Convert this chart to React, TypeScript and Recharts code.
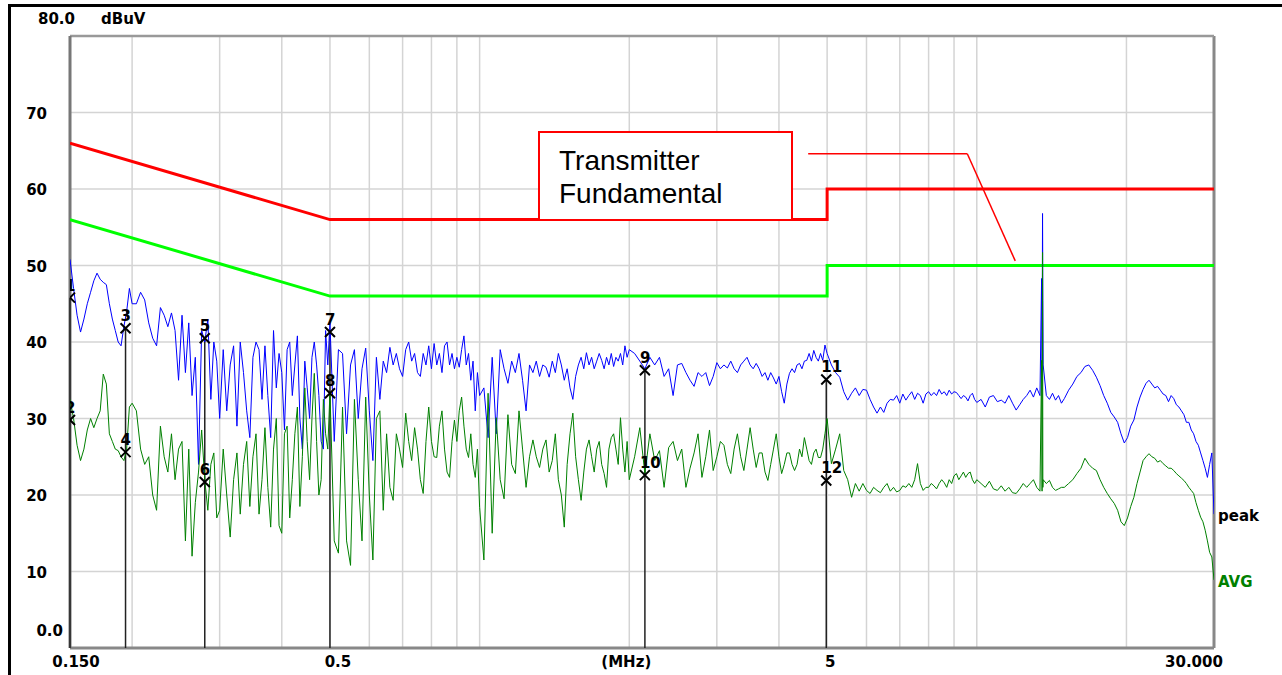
import { ComposedChart, Line, Scatter, XAxis, YAxis, ReferenceLine } from "recharts";

// conducted emission scan, 0.15 - 30 MHz
const freqMHz = [
  0.15, 0.1525, 0.155, 0.1575, 0.16, 0.1625, 0.165, 0.1675, 0.17, 0.1725, 0.175, 0.1775, 0.18, 0.1825, 0.185, 0.1875, 0.19, 0.1925, 0.195, 0.1975, 0.2,
  0.204, 0.208, 0.212, 0.216, 0.22, 0.224, 0.228, 0.232, 0.236, 0.24, 0.244, 0.248, 0.252, 0.256, 0.26, 0.264, 0.268, 0.272, 0.276, 0.28, 0.284, 0.288, 0.292, 0.296, 0.3,
  0.305, 0.31, 0.315, 0.32, 0.325, 0.33, 0.335, 0.34, 0.345, 0.35, 0.355, 0.36, 0.365, 0.37, 0.375, 0.38, 0.385, 0.39, 0.395, 0.4,
  0.405, 0.41, 0.415, 0.42, 0.425, 0.43, 0.435, 0.44, 0.445, 0.45, 0.455, 0.46, 0.465, 0.47, 0.475, 0.48, 0.485, 0.49, 0.495, 0.5,
  0.51, 0.52, 0.53, 0.54, 0.55, 0.56, 0.57, 0.58, 0.59, 0.6, 0.61, 0.62, 0.63, 0.64, 0.65, 0.66, 0.67, 0.68, 0.69, 0.7,
  0.71, 0.72, 0.73, 0.74, 0.75, 0.76, 0.77, 0.78, 0.79, 0.8, 0.81, 0.82, 0.83, 0.84, 0.85, 0.86, 0.87, 0.88, 0.89, 0.9,
  0.91, 0.92, 0.93, 0.94, 0.95, 0.96, 0.97, 0.98, 0.99, 1.0,
  1.02, 1.04, 1.06, 1.08, 1.1, 1.12, 1.14, 1.16, 1.18, 1.2, 1.22, 1.24, 1.26, 1.28, 1.3, 1.32, 1.34, 1.36, 1.38, 1.4,
  1.42, 1.44, 1.46, 1.48, 1.5, 1.52, 1.54, 1.56, 1.58, 1.6, 1.62, 1.64, 1.66, 1.68, 1.7, 1.72, 1.74, 1.76, 1.78, 1.8,
  1.82, 1.84, 1.86, 1.88, 1.9, 1.92, 1.94, 1.96, 1.98, 2.0,
  2.05, 2.1, 2.15, 2.2, 2.25, 2.3, 2.35, 2.4, 2.45, 2.5, 2.55, 2.6, 2.65, 2.7, 2.75, 2.8, 2.85, 2.9, 2.95, 3.0,
  3.05, 3.1, 3.15, 3.2, 3.25, 3.3, 3.35, 3.4, 3.45, 3.5, 3.55, 3.6, 3.65, 3.7, 3.75, 3.8, 3.85, 3.9, 3.95, 4.0,
  4.05, 4.1, 4.15, 4.2, 4.25, 4.3, 4.35, 4.4, 4.45, 4.5, 4.55, 4.6, 4.65, 4.7, 4.75, 4.8, 4.85, 4.9, 4.95, 5.0,
  5.1, 5.2, 5.3, 5.4, 5.5, 5.6, 5.7, 5.8, 5.9, 6.0, 6.1, 6.2, 6.3, 6.4, 6.5, 6.6, 6.7, 6.8, 6.9, 7.0,
  7.1, 7.2, 7.3, 7.4, 7.5, 7.6, 7.7, 7.8, 7.9, 8.0, 8.1, 8.2, 8.3, 8.4, 8.5, 8.6, 8.7, 8.8, 8.9, 9.0,
  9.1, 9.2, 9.3, 9.4, 9.5, 9.6, 9.7, 9.8, 9.9, 10.0,
  10.2, 10.4, 10.6, 10.8, 11.0, 11.2, 11.4, 11.6, 11.8, 12.0, 12.2, 12.4, 12.6, 12.8, 13.0, 13.2, 13.4,
  13.5, 13.53, 13.56, 13.58, 13.6,
  13.8, 14.0, 14.2, 14.4, 14.6, 14.8, 15.0,
  15.3, 15.6, 15.9, 16.2, 16.5, 16.8, 17.1, 17.4, 17.7, 18.0, 18.3, 18.6, 18.9, 19.2, 19.5, 19.8, 20.1, 20.4, 20.7, 21.0,
  21.3, 21.6, 21.9, 22.2, 22.5, 22.8, 23.1, 23.4, 23.7, 24.0, 24.3, 24.6, 24.9, 25.2, 25.5, 25.8, 26.1, 26.4, 26.7, 27.0,
  27.3, 27.6, 27.9, 28.2, 28.5, 28.8, 29.1, 29.4, 29.7, 30.0,
];

const peakDbuv = [
  50.8, 47, 43.5, 41.3, 43, 45, 46.5, 48, 49, 48.2, 47.8, 47.5, 45, 43, 41.5, 40, 39.5, 42, 44, 47, 45,
  45, 46.5, 45.5, 42.5, 40.5, 39.5, 44.5, 43.5, 42, 43.8, 41.5, 35, 43.5, 36, 42.5, 33, 38, 24, 41.5, 40, 43, 32.5, 40, 37.5, 30,
  39, 31, 37, 39.5, 29, 40, 36, 31, 27.5, 38, 40, 39, 32.5, 39.5, 33, 27.5, 41.5, 34, 38.5, 36,
  28.5, 39, 40, 33, 37, 40.8, 30, 26, 37.5, 34, 30, 38, 40, 37, 33, 27, 26, 41.5, 37, 42.5,
  27, 39, 38.5, 28, 37, 39, 30, 36.5, 39.2, 31, 24.5, 38, 32.5, 37.5, 36, 39.3, 37, 38.5, 36.5, 35.5,
  39, 40, 37.5, 38.5, 36, 35.5, 38.5, 37, 39.5, 36.5, 39.8, 37, 38.5, 36, 39.5, 40, 37, 38.5, 36.5, 38,
  36.7, 39, 40.8, 37, 38.5, 35, 37.5, 31, 36, 33,
  34, 27.5, 38, 28, 39, 36.5, 34.6, 37.5, 36, 38.5, 35, 31, 37, 36, 37.5, 35.5, 37, 36.7, 35.4, 37.5,
  36, 38.5, 37, 35, 36.5, 34, 32.5, 35.5, 37, 38, 36.5, 38.6, 37, 38, 36.5, 37.5, 38.5, 37.6, 36.5, 38,
  37, 38.5, 36.8, 38, 37.5, 38.5, 37, 39.5, 38, 39,
  38.5, 37.5, 36.5, 38, 37, 38, 35.5, 36.5, 33, 37, 37.2, 36, 35, 34.2, 36, 35.5, 36, 34.3, 35.5, 37.3,
  36.5, 37, 36.6, 37.5, 36.5, 36, 37, 37.5, 38, 37, 36.5, 37.2, 36.5, 35.5, 36, 35, 36, 35.3, 34.5, 35.5,
  33.5, 32, 34.5, 35.9, 36.5, 36, 37, 37.2, 36.5, 37.5, 37.6, 38.5, 37.5, 38.9, 38, 37.5, 38.5, 37.6, 39.6, 38.5,
  37, 36, 35.4, 33.5, 32.4, 33.3, 34, 33, 33.8, 33.7, 32.5, 31.5, 30.7, 31.5, 30.8, 32, 32.5, 32.4, 33, 32,
  33.2, 32.4, 33, 33.5, 32.5, 33.3, 33, 32, 33.2, 33.5, 33, 33.4, 33, 33.8, 33.2, 33.5, 33, 33.7, 33.2, 33.5,
  33.4, 33, 32.6, 33, 32.8, 32.3, 33, 33.3, 32.5, 32.1,
  32.5, 31.5, 32.8, 33, 32.2, 32.4, 32, 33, 32, 31.1, 31.8, 32.5, 33, 33.7, 32.8, 34, 33,
  48.3, 37.2, 56.8, 45.4, 37,
  33, 32.5, 33.3, 32.4, 33, 32, 32.6,
  33.7, 34.5, 35.5, 36, 36.8, 37, 36.3, 35.4, 34.3, 33, 32, 30.8, 30.2, 29.5, 28, 26.8, 27.5, 29, 29.8, 31.5,
  32.8, 33.8, 34.6, 35, 34.5, 34, 34.2, 33.7, 33.2, 33, 32.2, 33, 32.6, 31.8, 31.5, 31, 30.5, 29.5, 29.5, 28.5,
  28, 27, 26.5, 25.5, 24.5, 23.5, 22.3, 24, 25.5, 17.5,
];

const avgDbuv = [
  32.5, 30, 26.5, 24.5, 26, 28.5, 30, 28.8, 30, 31, 35.8, 34.5, 28, 27, 26, 25.8, 25, 24.5, 26, 31.5, 32,
  31, 26, 24, 25, 20, 18, 29, 25, 23, 28, 22, 26, 27, 14, 26, 12, 19, 23, 28.5, 22, 18, 24, 25.5, 17, 18,
  26, 20, 14.5, 22, 25.5, 17.5, 24, 27, 18.5, 25, 28, 17.5, 22, 28.8, 21, 15.8, 26, 30, 16, 15,
  28, 29, 17, 22, 28, 31.5, 18.5, 25, 34, 27, 22, 30, 35.9, 27, 20, 22, 32.5, 28, 26, 33.5,
  14, 12.4, 31.5, 14, 10.8, 32.5, 22, 14, 32.8, 20, 11.5, 30, 31, 18, 28, 21, 19.3, 28, 26, 23.6,
  30.7, 27, 24.5, 28.8, 26, 22, 20.2, 27, 31.5, 27, 25, 24.9, 29, 31, 26, 23, 22.3, 27, 29.8, 27,
  31, 32.8, 29, 26, 24.9, 28, 24, 22.3, 26, 18.4,
  11.5, 33.3, 15, 30.1, 22, 19.5, 30.5, 24, 22.8, 31, 26, 21, 25, 27.2, 25, 23.6, 26, 27.2, 23, 24.5,
  28, 22, 20, 15.8, 24, 28, 30.7, 25, 22, 19.3, 23, 26, 27.2, 25, 23, 26, 27, 24, 22.8, 21,
  26, 27.5, 28, 26, 24, 30.1, 26, 23, 27, 22,
  25, 28.8, 22.8, 28, 24.5, 25.8, 21, 26.2, 27, 24.5, 26, 21, 23.5, 25.5, 28, 22.3, 25, 28.5, 23.2, 25,
  27, 26.5, 24, 22.8, 26, 28, 25, 23.2, 26, 28.8, 26, 23.6, 25.5, 25.5, 23, 21.9, 24, 26, 28, 25,
  22.8, 24, 25.5, 25.5, 24, 23.2, 24, 26, 25, 27.5, 26, 24.5, 24, 25.5, 26, 24.9, 24.9, 26, 28, 30,
  24.1, 26, 28, 23.2, 22, 19.7, 21.5, 20.5, 21.5, 20.6, 20.2, 21, 20.6, 20.3, 21, 21.5, 20.5, 21, 20.4, 20.6,
  21.2, 21, 21.5, 21, 22, 24.1, 21.5, 20.6, 21, 21, 21.5, 21.2, 20.8, 21.5, 22, 21.6, 21, 22, 21.5, 22.5,
  22.8, 22, 22.5, 23, 22.3, 22.8, 23, 22, 21.5, 22,
  21.5, 21, 21.8, 20.8, 20.6, 21.2, 20.5, 21, 20.3, 20.2, 20.8, 21.5, 21, 21.5, 22, 21, 20.5,
  37.6, 20.5, 51.7, 21, 22,
  21.5, 21.9, 21, 20.6, 20.8, 21, 21,
  21.5, 22, 22.8, 23.5, 24.8, 24, 23.5, 23.2, 22, 21, 20.2, 19.5, 18.9, 18, 16.5, 16, 17, 18.5, 19.7, 21.5,
  23, 24.5, 25, 25.4, 25, 24.8, 24.3, 24.5, 24.1, 23.8, 23.5, 23.5, 23.2, 22.8, 22.5, 22.2, 21.9, 21.5, 21, 20.6,
  20.2, 19, 18, 17.1, 16.5, 15.4, 14, 12.5, 11.9, 8.9,
];

// EN 55022 class B limits
const limitFreq = [0.15, 0.5, 5, 5, 30];
const qpLimit = [66, 56, 56, 60, 60];
const avLimit = [56, 46, 46, 50, 50];

const markerNo = [1, 2, 3, 4, 5, 6, 7, 8, 9, 10, 11, 12];
const markerFreq = [0.15, 0.15, 0.194, 0.194, 0.28, 0.28, 0.5, 0.5, 2.15, 2.15, 4.98, 4.98];
const markerDbuv = [45.8, 29.8, 41.8, 25.6, 40.5, 21.7, 41.3, 33.3, 36.3, 22.6, 35.1, 21.9];

const xTicks = [0.15, 0.5, 2, 5, 30];
const xTickLabels = ["0.150", "0.5", "(MHz)", "5", "30.000"];
const xTickNudge = [6, 8, -3, 3, -20];
const yTicks = [0, 10, 20, 30, 40, 50, 60, 70, 80];
const yTickLabels = ["0.0", "10", "20", "30", "40", "50", "60", "70", "80.0"];
const gridFreq = [0.2, 0.3, 0.4, 0.5, 0.6, 0.7, 0.8, 0.9, 1, 2, 3, 4, 5, 6, 7, 8, 9, 10, 20];
const gridLevel = [10, 20, 30, 40, 50, 60, 70];

const noteText = ["Transmitter", "Fundamental"];
const leaderFreq = [4.58, 9.57, 11.95];
const leaderLevel = [64.6, 64.6, 50.6];

const traceRows = freqMHz.map((f, i) => ({ f, peak: peakDbuv[i], avg: avgDbuv[i] }));
const qpRows = limitFreq.map((f, i) => ({ f, lim: qpLimit[i] }));
const avRows = limitFreq.map((f, i) => ({ f, lim: avLimit[i] }));
const markerRows = markerNo.map((n, i) => ({ n, f: markerFreq[i], level: markerDbuv[i] }));
const stemFreq = markerFreq.filter((f, i) => markerFreq.indexOf(f) === i);
const stemTop = stemFreq.map((f) => Math.max(...markerRows.filter((m) => m.f === f).map((m) => m.level)));

const tickFont = { fontFamily: "'DejaVu Sans', sans-serif", fontWeight: "bold" as const, fontSize: 15, fill: "#000" };

function FreqTick(props: any) {
  const i = xTicks.indexOf(props.payload.value);
  return (
    <text x={props.x + xTickNudge[i]} y={props.y + 19} textAnchor="middle" style={tickFont}>
      {xTickLabels[i]}
    </text>
  );
}

function LevelTick(props: any) {
  const i = yTicks.indexOf(props.payload.value);
  if (props.payload.value === 80) {
    return (
      <g>
        <text x={props.x + 5} y={props.y - 12} textAnchor="end" style={tickFont}>{yTickLabels[i]}</text>
        <text x={props.x + 31} y={props.y - 12} style={tickFont}>dBuV</text>
      </g>
    );
  }
  if (props.payload.value === 0) {
    return <text x={props.x - 7} y={props.y - 12} textAnchor="end" style={tickFont}>{yTickLabels[i]}</text>;
  }
  return <text x={props.x - 23} y={props.y + 6} textAnchor="end" style={tickFont}>{yTickLabels[i]}</text>;
}

function MarkerShape(props: any) {
  const { cx, cy, payload } = props;
  return (
    <g>
      <path d={`M${cx - 5},${cy - 5}L${cx + 5},${cy + 5}M${cx - 5},${cy + 5}L${cx + 5},${cy - 5}`} stroke="#000" strokeWidth={2} />
      <text x={cx - 5} y={cy - 7} style={tickFont}>{payload.n}</text>
    </g>
  );
}

function endLabel(text: string, color: string, last: number) {
  return (p: any) =>
    p.index === last ? (
      <text key={text} x={p.x + 4} y={p.y + 7} style={{ ...tickFont, fill: color }}>{text}</text>
    ) : (
      <g key={p.index} />
    );
}

export default function App() {
  const last = traceRows.length - 1;
  return (
    <div style={{ position: "absolute", left: 0, top: 0, width: 1282, height: 675, background: "#fff" }}>
      <div style={{ position: "absolute", left: 8, top: 4, width: 1274, height: 671, borderTop: "3px solid #000", borderLeft: "3px solid #000", boxSizing: "border-box" }} />
      <div style={{ position: "absolute", left: 0, top: 0 }}>
        <ComposedChart width={1282} height={675} margin={{ top: 36, right: 68, bottom: 0, left: 10 }}>
          <XAxis
            dataKey="f"
            type="number"
            scale="log"
            domain={[0.15, 30]}
            allowDataOverflow
            ticks={xTicks}
            interval={0}
            tick={<FreqTick />}
            tickSize={0}
            tickMargin={0}
            axisLine={false}
            tickLine={false}
            height={27}
          />
          <YAxis
            type="number"
            domain={[0, 80]}
            allowDataOverflow
            ticks={yTicks}
            interval={0}
            tick={<LevelTick />}
            tickSize={0}
            tickMargin={0}
            axisLine={false}
            tickLine={false}
            width={60}
          />
          {gridFreq.map((f) => (
            <ReferenceLine key={"gx" + f} x={f} stroke="#d4d4d4" strokeWidth={1.5} />
          ))}
          {gridLevel.map((v) => (
            <ReferenceLine key={"gy" + v} y={v} stroke="#d4d4d4" strokeWidth={1.5} />
          ))}
          <ReferenceLine x={30} stroke="#888" strokeWidth={3} />
          <ReferenceLine y={80} stroke="#999" strokeWidth={2.5} />
          <ReferenceLine y={0} stroke="#888" strokeWidth={3} />
          <ReferenceLine x={0.15} stroke="#777" strokeWidth={3} />
          {stemFreq.map((f, i) => (
            <ReferenceLine key={"st" + f} segment={[{ x: f, y: 0 }, { x: f, y: stemTop[i] }]} stroke="#222" strokeWidth={1.5} />
          ))}
          <ReferenceLine
            segment={[{ x: leaderFreq[0], y: leaderLevel[0] }, { x: leaderFreq[1], y: leaderLevel[1] }]}
            stroke="#ff0000"
            strokeWidth={1.5}
          />
          <ReferenceLine
            segment={[{ x: leaderFreq[1], y: leaderLevel[1] }, { x: leaderFreq[2], y: leaderLevel[2] }]}
            stroke="#ff0000"
            strokeWidth={1.5}
          />
          <Line data={qpRows} dataKey="lim" stroke="#ff0000" strokeWidth={3} dot={false} isAnimationActive={false} />
          <Line data={avRows} dataKey="lim" stroke="#00ff00" strokeWidth={3} dot={false} isAnimationActive={false} />
          <Line
            data={traceRows}
            dataKey="peak"
            stroke="#0000ff"
            strokeWidth={1}
            dot={false}
            isAnimationActive={false}
            label={endLabel("peak", "#000", last)}
          />
          <Line
            data={traceRows}
            dataKey="avg"
            stroke="#008000"
            strokeWidth={1}
            dot={false}
            isAnimationActive={false}
            label={endLabel("AVG", "#008000", last)}
          />
          <Scatter data={markerRows} dataKey="level" shape={<MarkerShape />} isAnimationActive={false} />
        </ComposedChart>
      </div>
      {/* annotation callout box */}
      <div
        style={{
          position: "absolute",
          left: 538,
          top: 131,
          width: 255,
          height: 90,
          boxSizing: "border-box",
          border: "2px solid #ff0000",
          background: "#fff",
          fontFamily: "'Liberation Sans', Arial, sans-serif",
          fontSize: 28,
          lineHeight: "33px",
          color: "#000",
        }}
      >
        <div style={{ position: "absolute", left: 19, top: 11 }}>
          {noteText.map((t) => (
            <div key={t}>{t}</div>
          ))}
        </div>
      </div>
    </div>
  );
}
